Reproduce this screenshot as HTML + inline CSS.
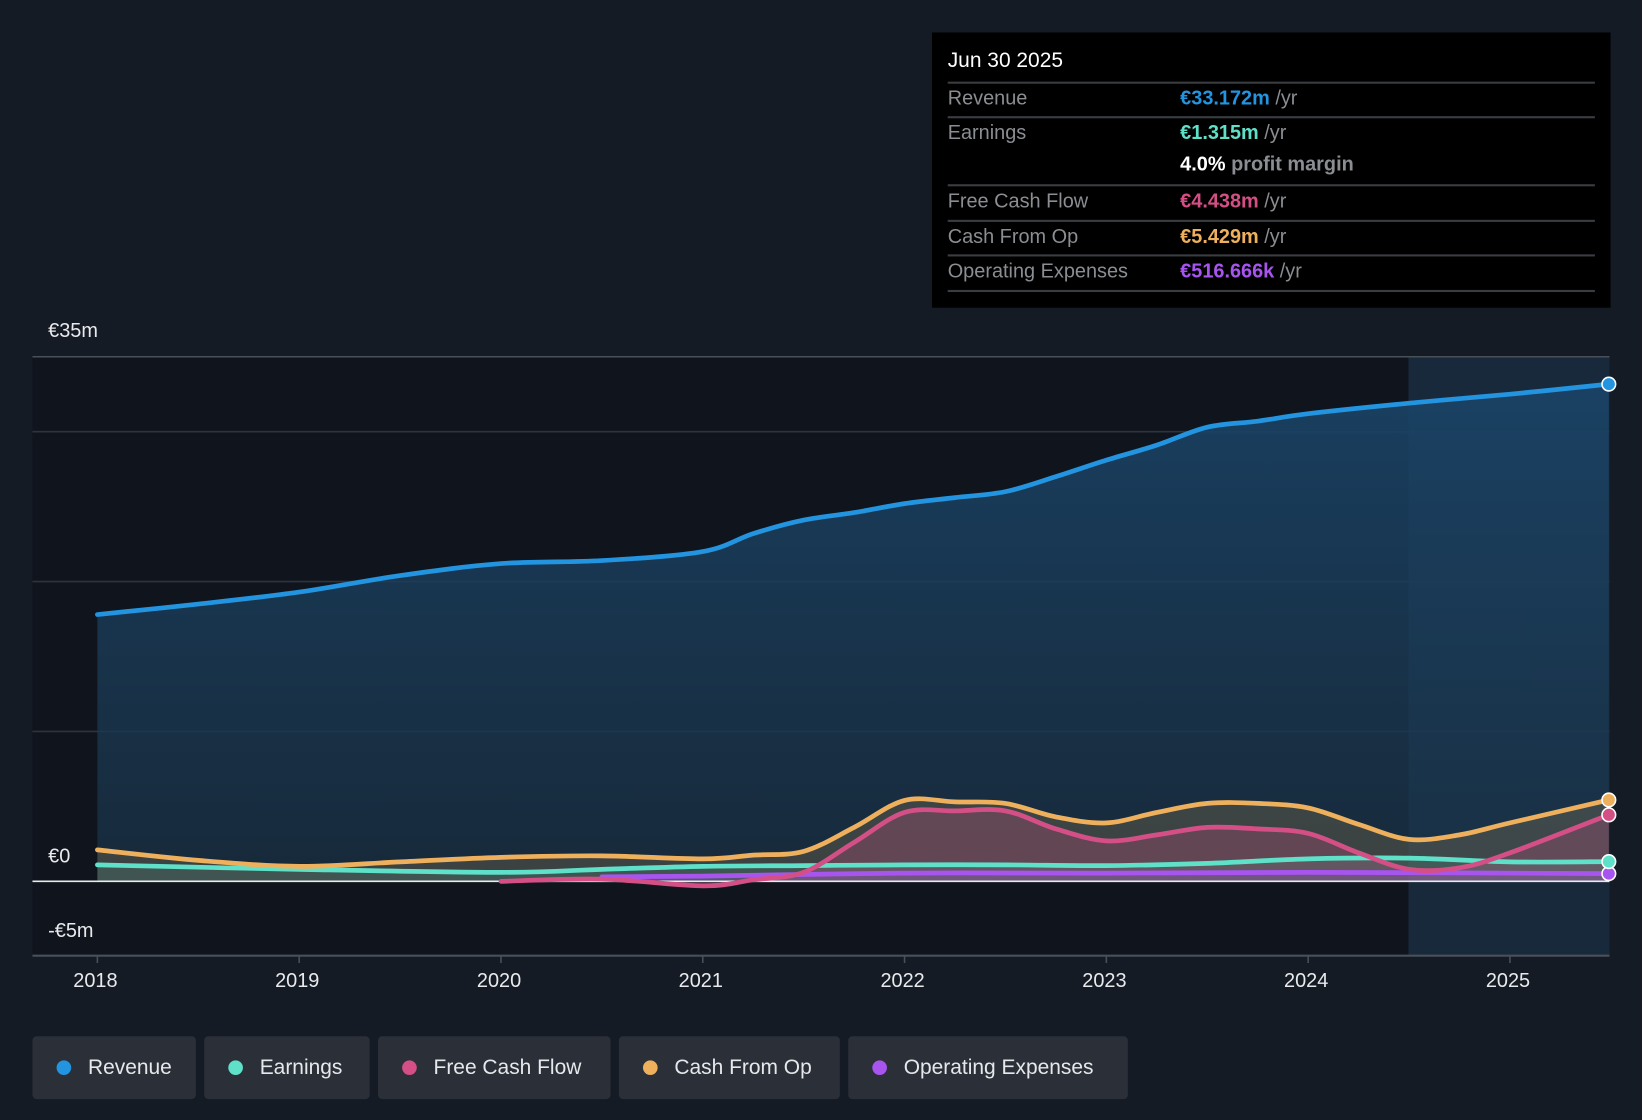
<!DOCTYPE html>
<html><head><meta charset="utf-8">
<style>
html,body{margin:0;padding:0;background:#151b24;overflow:hidden;width:1642px;height:1120px}
#wrap{position:absolute;left:0;top:0;width:1568px;height:1070px;transform:scale(1.04719,1.04673);transform-origin:0 0;font-family:"Liberation Sans",sans-serif}
.tt{position:absolute;left:890px;top:31px;width:648px;height:263px;background:#000}
.tt .row{position:absolute;left:15px;width:618px;border-top:2px solid #3a3d42;font-size:19px;color:#8a8d92;height:32px;line-height:30px}
.tt .v{position:absolute;left:222px}
.tt .u{color:#8a8d92}
.leg{position:absolute;top:990px;height:60px;background:#2a2f38;border-radius:4px;color:#e6e8eb;font-size:20px;line-height:60px}
.leg i{position:absolute;top:23px;left:23px;width:14px;height:14px;border-radius:50%}
.leg span{position:absolute;left:53px;white-space:nowrap}
.ax{position:absolute;color:#e8eaed;font-size:19px}
</style></head><body>
<div id="wrap">
<svg id="chart" width="1568" height="1070" style="position:absolute;left:0;top:0">
<defs>
<linearGradient id="revg" x1="0" y1="0" x2="0" y2="1"><stop offset="0" stop-color="#1a4468" stop-opacity="0.9"/><stop offset="1" stop-color="#1a3348" stop-opacity="0.7"/></linearGradient>
</defs>
<rect x="31" y="341" width="1506" height="572" fill="#10141c"/>
<rect x="1345" y="341" width="192" height="572" fill="#17293b"/>
<g id="grid"></g>
<g id="series"></g>
<g id="xticks"></g>
</svg>
<div class="ax" style="left:46px;top:306px">€35m</div>
<div class="ax" style="left:46px;top:808px">€0</div>
<div class="ax" style="left:46px;top:879px">-€5m</div>
<div id="xlabels"></div>

<div class="tt">
<div style="position:absolute;left:15px;top:16px;color:#fff;font-size:20px">Jun 30 2025</div>
<div class="row" style="top:47px">Revenue<span class="v"><b style="color:#2394e0;font-weight:bold">€33.172m</b> <span class="u">/yr</span></span></div>
<div class="row" style="top:80px;border-bottom:none">Earnings<span class="v"><b style="color:#5fe0c8">€1.315m</b> <span class="u">/yr</span></span></div>
<div class="row" style="top:112px;border-top:none"><span class="v"><b style="color:#fff">4.0%</b> <b class="u">profit margin</b></span></div>
<div class="row" style="top:145px">Free Cash Flow<span class="v"><b style="color:#d44f86">€4.438m</b> <span class="u">/yr</span></span></div>
<div class="row" style="top:179px">Cash From Op<span class="v"><b style="color:#eeb05d">€5.429m</b> <span class="u">/yr</span></span></div>
<div class="row" style="top:212px;border-bottom:2px solid #3a3d42">Operating Expenses<span class="v"><b style="color:#a855f0">€516.666k</b> <span class="u">/yr</span></span></div>
</div>

<div class="leg" style="left:31px;width:156px"><i style="background:#2394e0"></i><span>Revenue</span></div>
<div class="leg" style="left:195px;width:158px"><i style="background:#5fe0c8"></i><span>Earnings</span></div>
<div class="leg" style="left:361px;width:222px"><i style="background:#d44f86"></i><span>Free Cash Flow</span></div>
<div class="leg" style="left:591px;width:211px"><i style="background:#eeb05d"></i><span>Cash From Op</span></div>
<div class="leg" style="left:810px;width:267px"><i style="background:#a855f0"></i><span>Operating Expenses</span></div>
</div>
<script>
const revT=[2018,2018.5,2019,2019.5,2020,2020.5,2021,2021.25,2021.5,2021.75,2022,2022.25,2022.5,2022.75,2023,2023.25,2023.5,2023.75,2024,2024.5,2025,2025.49];
const revV=[17.8,18.5,19.3,20.4,21.2,21.4,22.0,23.2,24.1,24.6,25.2,25.6,26.0,27.0,28.1,29.1,30.3,30.7,31.2,31.9,32.5,33.172];
const cfoT=[2018,2018.5,2019,2019.5,2020,2020.5,2021,2021.25,2021.5,2021.75,2022,2022.25,2022.5,2022.75,2023,2023.25,2023.5,2023.75,2024,2024.25,2024.5,2024.75,2025,2025.49];
const cfoV=[2.1,1.4,1.0,1.3,1.6,1.7,1.5,1.75,2.0,3.6,5.4,5.3,5.2,4.3,3.9,4.6,5.2,5.2,4.9,3.8,2.8,3.1,3.9,5.429];
const fcfT=[2020,2020.5,2021,2021.25,2021.5,2021.75,2022,2022.25,2022.5,2022.75,2023,2023.25,2023.5,2023.75,2024,2024.25,2024.5,2024.75,2025,2025.49];
const fcfV=[0,0.15,-0.3,0.1,0.6,2.6,4.6,4.7,4.7,3.5,2.7,3.1,3.6,3.5,3.2,1.9,0.8,0.9,1.9,4.438];
const earnT=[2018,2019,2020,2020.5,2021,2021.5,2022,2022.5,2023,2023.5,2024,2024.5,2025,2025.49];
const earnV=[1.1,0.8,0.6,0.8,1.0,1.05,1.1,1.1,1.05,1.2,1.5,1.55,1.3,1.315];
const opxT=[2020.5,2021,2022,2023,2024,2025.49];
const opxV=[0.3,0.35,0.55,0.55,0.6,0.517];
const yTicks=[35,30,20,10];
const xTicks=[2018,2019,2020,2021,2022,2023,2024,2025];

const X=t=>93+(t-2018)*192.7;
const Y=v=>842-v*14.32;
const NS="http://www.w3.org/2000/svg";
function mk(tag,attrs,parent){const e=document.createElementNS(NS,tag);for(const k in attrs)e.setAttribute(k,attrs[k]);parent.appendChild(e);return e;}
function path(T,V){const p=T.map((t,i)=>[X(t),Y(V[i])]);let d="M"+p[0][0]+","+p[0][1];
 for(let i=0;i<p.length-1;i++){const p0=p[i-1]||p[i],p1=p[i],p2=p[i+1],p3=p[i+2]||p2;const k=6;
 d+=` C${p1[0]+(p2[0]-p0[0])/k},${p1[1]+(p2[1]-p0[1])/k} ${p2[0]-(p3[0]-p1[0])/k},${p2[1]-(p3[1]-p1[1])/k} ${p2[0]},${p2[1]}`;}return d;}
const grid=document.getElementById('grid');
yTicks.forEach(v=>{const l=mk('line',{x1:31,x2:1537,y1:Y(v),y2:Y(v),stroke:v==35?'#4a5058':'#2c3440','stroke-width':1.5},grid);
 });
const xl=document.getElementById('xticks');
mk('line',{x1:31,x2:1537,y1:913,y2:913,stroke:'#4a5058','stroke-width':2},xl);
const xlab=document.getElementById('xlabels');
xTicks.forEach(t=>{mk('line',{x1:X(t),x2:X(t),y1:913,y2:920,stroke:'#4a5058','stroke-width':1.5},xl);
 const d=document.createElement('div');d.className='ax';d.style.left=(X(t)-23)+'px';d.style.top='927px';d.textContent=t;
 
 
 xlab.appendChild(d);});
const S=document.getElementById('series');
const defs=[[revT,revV,'#2394e0','url(#revg)',1,'revenue'],[cfoT,cfoV,'#eeb05d','#e8b060',0.18,'cash-from-op'],[fcfT,fcfV,'#d44f86','#d44f86',0.25,'free-cash-flow'],[earnT,earnV,'#5fe0c8','#5fe0c8',0.12,'earnings'],[opxT,opxV,'#a855f0','#a855f0',0.2,'operating-expenses']];
defs.forEach(([T,V,c,f,o,n])=>{const d=path(T,V);
 const a=mk('path',{d:d+` L${X(T[T.length-1])},${Y(0)} L${X(T[0])},${Y(0)} Z`,fill:f,'fill-opacity':o},S);
 });
mk('line',{x1:31,x2:1537,y1:Y(0),y2:Y(0),stroke:'#e8eaed','stroke-width':1.5},S);
defs.slice().reverse().forEach(([T,V,c,f,o,n])=>{
 const l=mk('path',{d:path(T,V),fill:'none',stroke:c,'stroke-width':4.5,'stroke-linecap':'round'},S);
 
 const e=mk('circle',{cx:X(T[T.length-1]),cy:Y(V[V.length-1]),r:6.5,fill:c,stroke:'#fff','stroke-width':1.5},S);
 });
</script>
</body></html>
